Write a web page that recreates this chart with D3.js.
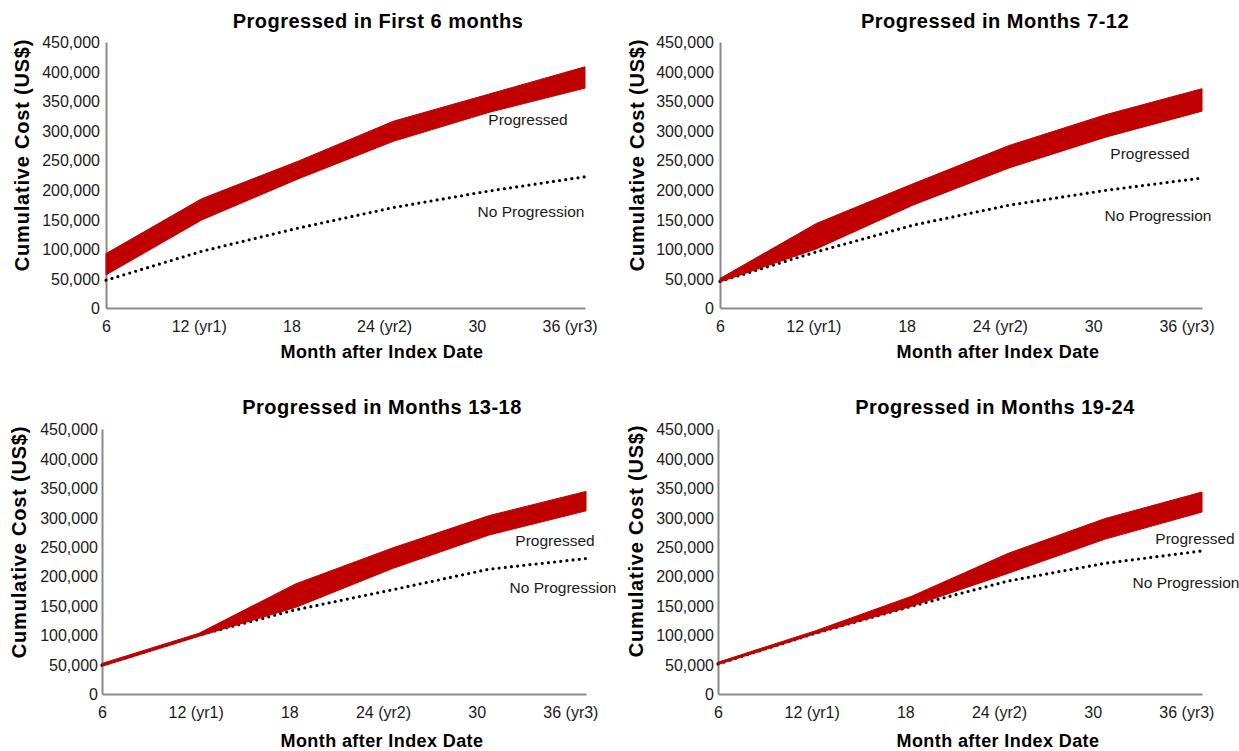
<!DOCTYPE html>
<html>
<head>
<meta charset="utf-8">
<script src="https://cdn.jsdelivr.net/npm/d3@7"></script>
<style>
  html, body { margin: 0; padding: 0; background: #fff; }
  svg { display: block; font-family: "Liberation Sans", Arial, Helvetica, sans-serif; }
  .tick text { fill: #1a1a1a; }
</style>
</head>
<body>
<svg id="chart" width="1239" height="751"></svg>
<script>
// data points (month after index date) used by every series
const pointMonths = [6, 12.2, 18.4, 24.6, 30.8, 37];

// axis ticks
const tickMonths = [6, 12, 18, 24, 30, 36];
const tickLabels = ["6", "12 (yr1)", "18", "24 (yr2)", "30", "36 (yr3)"];
const costTicks = [0, 50000, 100000, 150000, 200000, 250000, 300000, 350000, 400000, 450000];

const panelTitles = [
  "Progressed in First 6 months",
  "Progressed in Months 7-12",
  "Progressed in Months 13-18",
  "Progressed in Months 19-24"
];

// cumulative cost, US$ - progressed band (upper / lower) and no progression
const first6Upper = [92000, 185000, 248000, 316000, 362000, 408000];
const first6Lower = [56000, 149000, 218000, 282000, 331000, 372000];
const first6NoProg = [47000, 96000, 135000, 170000, 198000, 222000];

const m7to12Upper = [50000, 143000, 210000, 275000, 327000, 371000];
const m7to12Lower = [44000, 100000, 174000, 237000, 289000, 333000];
const m7to12NoProg = [45000, 95000, 140000, 174000, 199000, 220000];

const m13to18Upper = [52000, 103000, 187000, 248000, 303000, 344000];
const m13to18Lower = [47000, 98000, 147000, 213000, 270000, 311000];
const m13to18NoProg = [49000, 100000, 143000, 177000, 212000, 230000];

const m19to24Upper = [54000, 107000, 166000, 239000, 298000, 343000];
const m19to24Lower = [50000, 102000, 149000, 205000, 263000, 309000];
const m19to24NoProg = [51000, 103000, 149000, 192000, 222000, 243000];

const series = [
  { upper: first6Upper, lower: first6Lower, noProg: first6NoProg },
  { upper: m7to12Upper, lower: m7to12Lower, noProg: m7to12NoProg },
  { upper: m13to18Upper, lower: m13to18Lower, noProg: m13to18NoProg },
  { upper: m19to24Upper, lower: m19to24Lower, noProg: m19to24NoProg }
];

// layout of each small chart (plot area in px, labels relative to it)
const layout = [
  { left: 106, top: 42, width: 479, height: 266, title: [272, -14], xTitle: [276, 316], yTitle: [-84, 113], prog: [422, 83], noProg: [425, 175], tickGap: 6 },
  { left: 720, top: 42, width: 482, height: 266, title: [275, -14], xTitle: [278, 316], yTitle: [-83, 113], prog: [430, 117], noProg: [438, 179], tickGap: 6 },
  { left: 102, top: 429, width: 484, height: 265, title: [280, -15], xTitle: [280, 318], yTitle: [-83, 113], prog: [453, 117], noProg: [461, 164], tickGap: 4 },
  { left: 718, top: 429, width: 484, height: 265, title: [277, -15], xTitle: [280, 318], yTitle: [-82, 112], prog: [477, 115], noProg: [468, 159], tickGap: 4 }
];

const svg = d3.select("#chart");
const fmt = d3.format(",");

layout.forEach(function (p, i) {
  const s = series[i];
  const g = svg.append("g").attr("transform", "translate(" + p.left + "," + p.top + ")");

  const x = d3.scaleLinear().domain([6, 37]).range([0, p.width]);
  const y = d3.scaleLinear().domain([0, 450000]).range([p.height, 0]);

  // axes
  const yAxis = g.append("g")
    .call(d3.axisLeft(y).tickValues(costTicks).tickFormat(fmt).tickSize(0).tickPadding(p.tickGap));
  yAxis.selectAll("text").attr("font-size", 16).attr("dy", "0.36em");

  const xAxis = g.append("g")
    .attr("transform", "translate(0," + p.height + ")")
    .call(d3.axisBottom(x).tickValues(tickMonths).tickFormat(function (d, k) { return tickLabels[k]; }).tickSize(0).tickPadding(0));
  xAxis.selectAll("text").attr("font-size", 16).attr("dy", null).attr("y", 24);

  g.selectAll(".domain").attr("stroke", "#8a8a8a").attr("stroke-width", 2);

  const rows = pointMonths.map(function (m, k) {
    return { m: m, hi: s.upper[k], lo: s.lower[k], np: s.noProg[k] };
  });

  // no progression, dotted
  g.append("path")
    .datum(rows)
    .attr("fill", "none")
    .attr("stroke", "#000")
    .attr("stroke-width", 3.2)
    .attr("stroke-linecap", "round")
    .attr("stroke-dasharray", "0,6.2")
    .attr("d", d3.line().x(function (d) { return x(d.m); }).y(function (d) { return y(d.np); }));

  // progressed band
  g.append("path")
    .datum(rows)
    .attr("fill", "#c00000")
    .attr("stroke", "#c00000")
    .attr("stroke-width", 1)
    .attr("stroke-linejoin", "round")
    .attr("d", d3.area().x(function (d) { return x(d.m); }).y0(function (d) { return y(d.lo); }).y1(function (d) { return y(d.hi); }));

  // texts
  g.append("text")
    .attr("x", p.title[0]).attr("y", p.title[1])
    .attr("text-anchor", "middle")
    .attr("font-size", 20).attr("font-weight", "bold").attr("letter-spacing", 0.5)
    .attr("fill", "#000")
    .text(panelTitles[i]);

  g.append("text")
    .attr("x", p.xTitle[0]).attr("y", p.xTitle[1])
    .attr("text-anchor", "middle")
    .attr("font-size", 18).attr("font-weight", "bold").attr("letter-spacing", 0.4)
    .attr("fill", "#000")
    .text("Month after Index Date");

  g.append("text")
    .attr("transform", "translate(" + p.yTitle[0] + "," + p.yTitle[1] + ") rotate(-90)")
    .attr("text-anchor", "middle").attr("dy", "0.35em")
    .attr("font-size", 20).attr("font-weight", "bold").attr("letter-spacing", 0.8)
    .attr("fill", "#000")
    .text("Cumulative Cost (US$)");

  g.append("text")
    .attr("x", p.prog[0]).attr("y", p.prog[1])
    .attr("text-anchor", "middle")
    .attr("font-size", 15.5).attr("fill", "#1a1a1a")
    .text("Progressed");

  g.append("text")
    .attr("x", p.noProg[0]).attr("y", p.noProg[1])
    .attr("text-anchor", "middle")
    .attr("font-size", 15.5).attr("fill", "#1a1a1a")
    .text("No Progression");
});
</script>
</body>
</html>
